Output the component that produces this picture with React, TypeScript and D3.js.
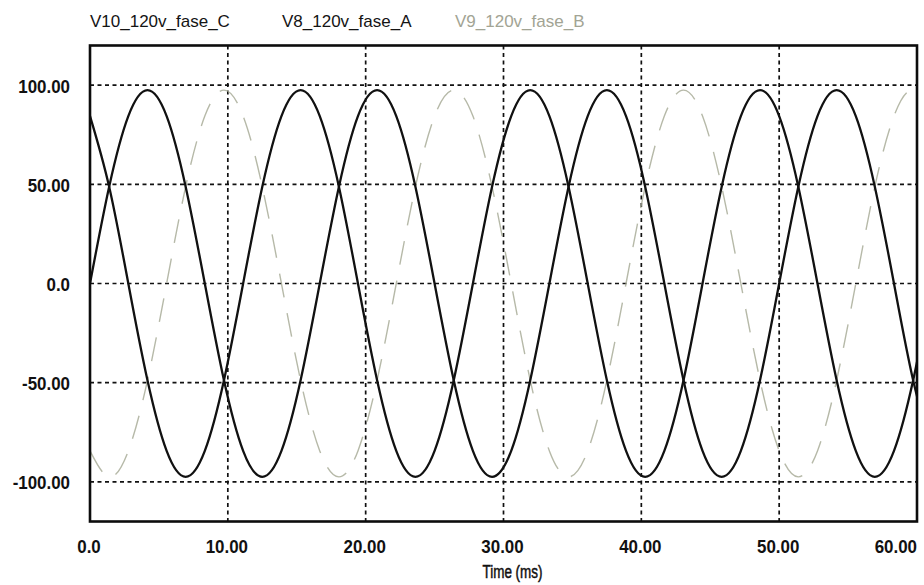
import React from "react";
import * as d3 from "d3";

// Sample instants (ms), one every 30 electrical degrees of a 60 Hz supply
const timeMs = [
  0, 1.39, 2.78, 4.17, 5.56, 6.94, 8.33, 9.72, 11.11, 12.5, 13.89, 15.28,
  16.67, 18.06, 19.44, 20.83, 22.22, 23.61, 25, 26.39, 27.78, 29.17, 30.56, 31.94,
  33.33, 34.72, 36.11, 37.5, 38.89, 40.28, 41.67, 43.06, 44.44, 45.83, 47.22, 48.61,
  50, 51.39, 52.78, 54.17, 55.56, 56.94, 58.33, 59.72, 61.11,
];

// Phase voltages (V) at those instants
const faseA = [
  0, 48.8, 84.4, 97.5, 84.4, 48.8, 0, -48.8, -84.4, -97.5, -84.4, -48.8,
  0, 48.8, 84.4, 97.5, 84.4, 48.8, 0, -48.8, -84.4, -97.5, -84.4, -48.8,
  0, 48.8, 84.4, 97.5, 84.4, 48.8, 0, -48.8, -84.4, -97.5, -84.4, -48.8,
  0, 48.8, 84.4, 97.5, 84.4, 48.8, 0, -48.8, -84.4,
];
const faseB = [
  -84.4, -97.5, -84.4, -48.8, 0, 48.8, 84.4, 97.5, 84.4, 48.8, 0, -48.8,
  -84.4, -97.5, -84.4, -48.8, 0, 48.8, 84.4, 97.5, 84.4, 48.8, 0, -48.8,
  -84.4, -97.5, -84.4, -48.8, 0, 48.8, 84.4, 97.5, 84.4, 48.8, 0, -48.8,
  -84.4, -97.5, -84.4, -48.8, 0, 48.8, 84.4, 97.5, 84.4,
];
const faseC = [
  84.4, 48.8, 0, -48.8, -84.4, -97.5, -84.4, -48.8, 0, 48.8, 84.4, 97.5,
  84.4, 48.8, 0, -48.8, -84.4, -97.5, -84.4, -48.8, 0, 48.8, 84.4, 97.5,
  84.4, 48.8, 0, -48.8, -84.4, -97.5, -84.4, -48.8, 0, 48.8, 84.4, 97.5,
  84.4, 48.8, 0, -48.8, -84.4, -97.5, -84.4, -48.8, 0,
];

const legendNames = ["V10_120v_fase_C", "V8_120v_fase_A", "V9_120v_fase_B"];

const xTickValues = [0, 10, 20, 30, 40, 50, 60];
const xTickLabels = ["0.0", "10.00", "20.00", "30.00", "40.00", "50.00", "60.00"];
const yTickValues = [100, 50, 0, -50, -100];
const yTickLabels = ["100.00", "50.00", "0.0", "-50.00", "-100.00"];
const xAxisTitle = "Time (ms)";

const FONT = "'Liberation Sans', Arial, Helvetica, sans-serif";

export default function App() {
  const W = 924;
  const H = 585;
  const plot = { left: 90, right: 917, top: 45.5, bottom: 521.5 };

  const x = d3.scaleLinear().domain([0, 60]).range([plot.left, plot.right]);
  const y = d3.scaleLinear().domain([-120, 120]).range([plot.bottom, plot.top]);

  const path = (vals: number[]) =>
    d3
      .line<number>()
      .x((_, i) => x(timeMs[i]))
      .y((d) => y(d))
      .curve(d3.curveNatural)(vals) || "";

  const legendX = [90, 282, 455];
  const legendColor = ["#141414", "#141414", "#a2a494"];

  return (
    <svg
      width={W}
      height={H}
      viewBox={`0 0 ${W} ${H}`}
      style={{ position: "fixed", left: 0, top: 0, background: "#fff" }}
    >
      <defs>
        <clipPath id="plotClip">
          <rect
            x={plot.left}
            y={plot.top}
            width={plot.right - plot.left}
            height={plot.bottom - plot.top}
          />
        </clipPath>
      </defs>
      <rect x={0} y={0} width={W} height={H} fill="#fff" />

      {/* legend */}
      {legendNames.map((name, i) => (
        <text
          key={name}
          x={legendX[i]}
          y={27}
          fontFamily={FONT}
          fontSize={17}
          fill={legendColor[i]}
        >
          {name}
        </text>
      ))}

      {/* grid */}
      <g stroke="#111" strokeWidth={1.7} strokeDasharray="4,3.5">
        {xTickValues
          .filter((v) => v > 0 && v < 60)
          .map((v) => (
            <line key={`gx${v}`} x1={x(v)} x2={x(v)} y1={plot.top} y2={plot.bottom} />
          ))}
        {yTickValues.map((v) => (
          <line key={`gy${v}`} x1={plot.left} x2={plot.right} y1={y(v)} y2={y(v)} />
        ))}
      </g>

      {/* waveforms */}
      <g clipPath="url(#plotClip)" fill="none" strokeLinejoin="round">
        <path
          d={path(faseB)}
          stroke="#a4a792"
          strokeOpacity={0.8}
          strokeWidth={1.4}
          strokeDasharray="24,16"
        />
        <path d={path(faseC)} stroke="#111" strokeWidth={2.3} />
        <path d={path(faseA)} stroke="#111" strokeWidth={2.3} />
      </g>

      {/* frame */}
      <rect
        x={plot.left}
        y={plot.top}
        width={plot.right - plot.left}
        height={plot.bottom - plot.top}
        fill="none"
        stroke="#0c0c0c"
        strokeWidth={2.6}
      />

      {/* y tick labels */}
      {yTickValues.map((v, i) => (
        <g key={`yl${v}`} transform={`translate(70,${y(v) + 7.5}) scale(0.94,1)`}>
          <text
            textAnchor="end"
            fontFamily={FONT}
            fontSize={18}
            fontWeight="bold"
            fill="#111"
          >
            {yTickLabels[i]}
          </text>
        </g>
      ))}

      {/* x tick labels */}
      {xTickValues.map((v, i) => {
        const last = i === xTickValues.length - 1;
        return (
          <g
            key={`xl${v}`}
            transform={`translate(${last ? x(v) : x(v) - 1},553) scale(0.94,1)`}
          >
            <text
              textAnchor={last ? "end" : "middle"}
              fontFamily={FONT}
              fontSize={18}
              fontWeight="bold"
              fill="#111"
            >
              {xTickLabels[i]}
            </text>
          </g>
        );
      })}

      {/* axis title */}
      <text
        x={512.5}
        y={578}
        textAnchor="middle"
        fontFamily={FONT}
        fontSize={18}
        textLength={60}
        lengthAdjust="spacingAndGlyphs"
        fill="#111"
        stroke="#111"
        strokeWidth={0.5}
      >
        {xAxisTitle}
      </text>
    </svg>
  );
}
